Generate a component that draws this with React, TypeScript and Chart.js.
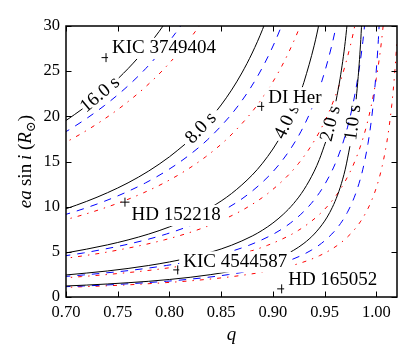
import React, { useEffect, useRef } from 'react';
import { Chart, registerables } from 'chart.js';

Chart.register(...registerables);

const SERIF = "'Liberation Serif', 'DejaVu Serif', 'Times New Roman', serif";

// ---------------- data ----------------
const xTickValues = [0.7, 0.75, 0.8, 0.85, 0.9, 0.95, 1.0];
const yTickValues = [0, 5, 10, 15, 20, 25, 30];

// contour curves: [q, e a sin i (R_sun)] ; null = label gap
const black16 = [[0.68, 18.10], [0.70, 19.54], [0.716, 20.83], [0.733, null], [0.751, 24.25], [0.76, 25.28], [0.77, 26.53], [0.78, 27.90], [0.79, 29.39], [0.80, 31.03]];
const black8 = [[0.68, 9.05], [0.70, 9.77], [0.72, 10.59], [0.74, 11.54], [0.76, 12.64], [0.78, 13.95], [0.80, 15.52], [0.815, 16.91], [0.83, null], [0.846, 20.67], [0.85, 21.26], [0.86, 22.90], [0.87, 24.80], [0.88, 27.01], [0.89, 29.62], [0.90, 32.76]];
const black4 = [[0.68, 4.53], [0.70, 4.88], [0.72, 5.30], [0.74, 5.77], [0.76, 6.32], [0.78, 6.97], [0.80, 7.76], [0.82, 8.72], [0.84, 9.91], [0.86, 11.45], [0.88, 13.50], [0.89, 14.81], [0.90, 16.38], [0.905, 17.29], [0.916, null], [0.928, 23.08], [0.93, 23.77], [0.94, 27.87], [0.945, 30.48], [0.95, 33.62]];
const black2 = [[0.68, 2.26], [0.70, 2.44], [0.72, 2.65], [0.74, 2.88], [0.76, 3.16], [0.78, 3.49], [0.80, 3.88], [0.82, 4.36], [0.84, 4.96], [0.86, 5.73], [0.88, 6.75], [0.89, 7.40], [0.90, 8.19], [0.91, 9.15], [0.92, 10.34], [0.93, 11.88], [0.94, 13.93], [0.945, 15.24], [0.951, 17.16], [0.956, null], [0.961, 21.67], [0.965, 24.20], [0.97, 28.30], [0.975, 34.05]];
const black1 = [[0.68, 1.13], [0.70, 1.22], [0.72, 1.32], [0.74, 1.44], [0.76, 1.58], [0.78, 1.74], [0.80, 1.94], [0.82, 2.18], [0.84, 2.48], [0.86, 2.86], [0.88, 3.38], [0.89, 3.70], [0.90, 4.09], [0.91, 4.57], [0.92, 5.17], [0.93, 5.94], [0.94, 6.97], [0.95, 8.40], [0.955, 9.36], [0.96, 10.56], [0.965, 12.10], [0.97, 14.15], [0.9745, 16.69], [0.9775, null], [0.9805, 21.89], [0.9825, 24.41], [0.985, 28.51], [0.9875, 34.26]];

const blue16 = [[0.677, 16.83], [0.697, 18.10], [0.717, 19.54], [0.737, 21.18], [0.757, 23.07], [0.777, 25.28], [0.797, 27.90], [0.807, 29.39], [0.817, 31.03]];
const blue8 = [[0.677, 8.42], [0.697, 9.05], [0.717, 9.77], [0.737, 10.59], [0.757, 11.54], [0.777, 12.64], [0.797, 13.95], [0.817, 15.52], [0.837, 17.43], [0.857, 19.83], [0.867, 21.26], [0.877, 22.90], [0.887, 24.80], [0.897, 27.01], [0.907, 29.62], [0.917, 32.76]];
const blue4 = [[0.677, 4.21], [0.697, 4.53], [0.717, 4.88], [0.737, 5.30], [0.757, 5.77], [0.777, 6.32], [0.797, 6.97], [0.817, 7.76], [0.837, 8.72], [0.857, 9.91], [0.877, 11.45], [0.897, 13.50], [0.907, 14.81], [0.917, 16.38], [0.927, 18.29], [0.937, 20.69], [0.947, 23.77], [0.957, 27.87], [0.962, 30.48], [0.967, 33.62]];
const blue2 = [[0.677, 2.10], [0.697, 2.26], [0.717, 2.44], [0.737, 2.65], [0.757, 2.88], [0.777, 3.16], [0.797, 3.49], [0.817, 3.88], [0.837, 4.36], [0.857, 4.96], [0.877, 5.73], [0.897, 6.75], [0.907, 7.40], [0.917, 8.19], [0.927, 9.15], [0.937, 10.34], [0.947, 11.88], [0.957, 13.93], [0.962, 15.24], [0.967, 16.81], [0.972, 18.72], [0.977, 21.12], [0.982, 24.20], [0.987, 28.30], [0.992, 34.05]];
const blue1 = [[0.677, 1.05], [0.697, 1.13], [0.717, 1.22], [0.737, 1.32], [0.757, 1.44], [0.777, 1.58], [0.797, 1.74], [0.817, 1.94], [0.837, 2.18], [0.857, 2.48], [0.877, 2.86], [0.897, 3.38], [0.907, 3.70], [0.917, 4.09], [0.927, 4.57], [0.937, 5.17], [0.947, 5.94], [0.957, 6.97], [0.962, 7.62], [0.967, 8.40], [0.972, 9.36], [0.977, 10.56], [0.982, 12.10], [0.987, 14.15], [0.992, 17.02], [0.9945, 18.94], [0.997, 21.33], [0.9995, 24.41], [1.002, 28.51], [1.0045, 34.26]];

const red16 = [[0.695, 16.83], [0.715, 18.10], [0.735, 19.54], [0.755, 21.18], [0.775, 23.07], [0.795, 25.28], [0.815, 27.90], [0.825, 29.39], [0.835, 31.03]];
const red8 = [[0.695, 8.42], [0.715, 9.05], [0.735, 9.77], [0.755, 10.59], [0.775, 11.54], [0.795, 12.64], [0.815, 13.95], [0.835, 15.52], [0.855, 17.43], [0.875, 19.83], [0.885, 21.26], [0.895, 22.90], [0.905, 24.80], [0.915, 27.01], [0.925, 29.62], [0.935, 32.76]];
const red4 = [[0.695, 4.21], [0.715, 4.53], [0.735, 4.88], [0.755, 5.30], [0.775, 5.77], [0.795, 6.32], [0.815, 6.97], [0.835, 7.76], [0.855, 8.72], [0.875, 9.91], [0.895, 11.45], [0.915, 13.50], [0.925, 14.81], [0.935, 16.38], [0.945, 18.29], [0.955, 20.69], [0.965, 23.77], [0.975, 27.87], [0.980, 30.48], [0.985, 33.62]];
const red2 = [[0.695, 2.10], [0.715, 2.26], [0.735, 2.44], [0.755, 2.65], [0.775, 2.88], [0.795, 3.16], [0.815, 3.49], [0.835, 3.88], [0.855, 4.36], [0.875, 4.96], [0.895, 5.73], [0.915, 6.75], [0.925, 7.40], [0.935, 8.19], [0.945, 9.15], [0.955, 10.34], [0.965, 11.88], [0.975, 13.93], [0.980, 15.24], [0.985, 16.81], [0.990, 18.72], [0.995, 21.12], [1.000, 24.20], [1.005, 28.30], [1.010, 34.05]];
const red1 = [[0.695, 1.05], [0.715, 1.13], [0.735, 1.22], [0.755, 1.32], [0.775, 1.44], [0.795, 1.58], [0.815, 1.74], [0.835, 1.94], [0.855, 2.18], [0.875, 2.48], [0.895, 2.86], [0.915, 3.38], [0.925, 3.70], [0.935, 4.09], [0.945, 4.57], [0.955, 5.17], [0.965, 5.94], [0.975, 6.97], [0.980, 7.62], [0.985, 8.40], [0.990, 9.36], [0.995, 10.56], [1.000, 12.10], [1.005, 14.15], [1.010, 17.02], [1.0125, 18.94], [1.015, 21.33], [1.0175, 24.41], [1.020, 28.51], [1.0225, 34.26]];

// contour labels
const contourLabels = ['16.0 s', '8.0 s', '4.0 s', '2.0 s', '1.0 s'];
const contourLabelQ = [0.733, 0.8306, 0.9137, 0.956, 0.9777];
const contourLabelA = [22.4, 18.7, 19.4, 19.2, 19.3];

// stars
const starNames = ['KIC 3749404', 'DI Her', 'HD 152218', 'KIC 4544587', 'HD 165052'];
const starQ = [0.7387, 0.8892, 0.757, 0.808, 0.9085];
const starA = [26.5, 21.1, 10.5, 3.0, 0.9];

// ---------------- styles / layout ----------------
const contourLabelAngle = [40, 46, 64, 76, 83];
const starLabelDx = [6, 6.5, 6.5, 5.5, 6.5];
const starLabelDy = [-10.6, -10, 12, -9.3, -9.8];

const toXY = (pairs: (number | null)[][]) => pairs.map(([x, y]) => ({ x, y }));

function drawYTitle(ctx: CanvasRenderingContext2D, cx: number, cy: number) {
  const size = 19;
  const it = `italic ${size}px ${SERIF}`;
  const rm = `${size}px ${SERIF}`;
  const parts: { t?: string; f?: string; sp?: number; dy?: number }[] = [
    { t: 'e', f: it },
    { t: 'a', f: it },
    { sp: 0.22 * size },
    { t: 'sin', f: rm },
    { sp: 0.2 * size },
    { t: 'i', f: it },
    { sp: 0.25 * size },
    { t: '(', f: rm },
    { t: 'R', f: it },
    { t: '\u2299', f: `${Math.round(size * 0.68)}px ${SERIF}`, dy: size * 0.2 },
    { t: ')', f: rm },
  ];
  let total = 0;
  const widths = parts.map((p) => {
    if (p.sp !== undefined) return p.sp;
    ctx.font = p.f!;
    return ctx.measureText(p.t!).width;
  });
  widths.forEach((w) => (total += w));
  ctx.save();
  ctx.translate(cx, cy);
  ctx.rotate(-Math.PI / 2);
  ctx.fillStyle = '#000';
  ctx.textBaseline = 'alphabetic';
  ctx.textAlign = 'left';
  let u = -total / 2;
  parts.forEach((p, i) => {
    if (p.t) {
      ctx.font = p.f!;
      ctx.fillText(p.t, u, p.dy || 0);
    }
    u += widths[i];
  });
  ctx.restore();
}

const overlayPlugin = {
  id: 'overlay',
  afterDatasetsDraw(chart: any) {
    const ctx: CanvasRenderingContext2D = chart.ctx;
    const xs = chart.scales.x;
    const ys = chart.scales.y;
    ctx.save();
    // contour labels
    ctx.fillStyle = '#000';
    ctx.font = `19px ${SERIF}`;
    ctx.textAlign = 'center';
    ctx.textBaseline = 'middle';
    contourLabels.forEach((t, i) => {
      const px = xs.getPixelForValue(contourLabelQ[i]);
      const py = ys.getPixelForValue(contourLabelA[i]);
      ctx.save();
      ctx.translate(px, py);
      ctx.rotate((-contourLabelAngle[i] * Math.PI) / 180);
      ctx.fillText(t, 0, 0);
      ctx.restore();
    });
    // star labels with white boxes
    const fs = 19;
    ctx.font = `${fs}px ${SERIF}`;
    ctx.textAlign = 'left';
    ctx.textBaseline = 'alphabetic';
    starNames.forEach((name, i) => {
      const px = xs.getPixelForValue(starQ[i]);
      const py = ys.getPixelForValue(starA[i]);
      const tx = px + starLabelDx[i];
      const base = py + starLabelDy[i] + 0.33 * fs;
      const w = ctx.measureText(name).width;
      ctx.fillStyle = '#fff';
      ctx.fillRect(tx - 4, base - 0.66 * fs - 3, w + 8, 0.66 * fs + 3 + 0.22 * fs + 1.5);
      ctx.fillStyle = '#000';
      ctx.fillText(name, tx, base);
    });
    ctx.restore();
  },
  afterDraw(chart: any) {
    const ctx: CanvasRenderingContext2D = chart.ctx;
    const xs = chart.scales.x;
    const ys = chart.scales.y;
    const { left, right, top, bottom } = chart.chartArea;
    ctx.save();
    ctx.strokeStyle = '#000';
    ctx.lineWidth = 1;
    const tl = 5.5;
    ctx.beginPath();
    xTickValues.forEach((v) => {
      const px = Math.round(xs.getPixelForValue(v)) + 0.5;
      ctx.moveTo(px, bottom);
      ctx.lineTo(px, bottom - tl);
      ctx.moveTo(px, top);
      ctx.lineTo(px, top + tl);
    });
    yTickValues.forEach((v) => {
      const py = Math.round(ys.getPixelForValue(v)) + 0.5;
      ctx.moveTo(left, py);
      ctx.lineTo(left + tl, py);
      ctx.moveTo(right, py);
      ctx.lineTo(right - tl, py);
    });
    ctx.stroke();
    ctx.lineWidth = 1.5;
    ctx.strokeRect(left, top, right - left, bottom - top);
    // x title
    ctx.fillStyle = '#000';
    ctx.font = `italic 19px ${SERIF}`;
    ctx.textAlign = 'center';
    ctx.textBaseline = 'alphabetic';
    ctx.fillText('q', (left + right) / 2, 339.5);
    ctx.restore();
    drawYTitle(ctx, 31, (top + bottom) / 2);
  },
};

export default function App() {
  const ref = useRef<HTMLCanvasElement | null>(null);
  useEffect(() => {
    document.body.style.margin = '0';
    const canvas = ref.current!;
    const curveSets = [
      { d: black16, c: '#000000', dash: [] as number[] },
      { d: black8, c: '#000000', dash: [] },
      { d: black4, c: '#000000', dash: [] },
      { d: black2, c: '#000000', dash: [] },
      { d: black1, c: '#000000', dash: [] },
      { d: blue16, c: '#0000ff', dash: [7.5, 7] },
      { d: blue8, c: '#0000ff', dash: [7.5, 7] },
      { d: blue4, c: '#0000ff', dash: [7.5, 7] },
      { d: blue2, c: '#0000ff', dash: [7.5, 7] },
      { d: blue1, c: '#0000ff', dash: [7.5, 7] },
      { d: red16, c: '#ff0000', dash: [4, 6, 1.4, 6] },
      { d: red8, c: '#ff0000', dash: [4, 6, 1.4, 6] },
      { d: red4, c: '#ff0000', dash: [4, 6, 1.4, 6] },
      { d: red2, c: '#ff0000', dash: [4, 6, 1.4, 6] },
      { d: red1, c: '#ff0000', dash: [4, 6, 1.4, 6] },
    ];
    const datasets: any[] = [
      {
        data: starQ.map((q, i) => ({ x: q, y: starA[i] })),
        showLine: false,
        pointStyle: 'cross',
        pointRadius: 4.5,
        pointBorderColor: '#000',
        pointBorderWidth: 1,
        borderColor: '#000',
        clip: false,
      },
      ...curveSets.map((s) => ({
        data: toXY(s.d),
        borderColor: s.c,
        borderWidth: 1,
        borderDash: s.dash,
        pointRadius: 0,
        fill: false,
        spanGaps: false,
        cubicInterpolationMode: 'monotone',
        clip: 0,
      })),
    ];
    const chart = new Chart(canvas, {
      type: 'line',
      data: { datasets },
      plugins: [overlayPlugin],
      options: {
        animation: false,
        responsive: false,
        devicePixelRatio: 1,
        events: [],
        layout: { padding: { top: 26, right: 18, left: 0, bottom: 0 } },
        plugins: { legend: { display: false }, tooltip: { enabled: false }, title: { display: false } },
        scales: {
          x: {
            type: 'linear',
            min: 0.7,
            max: 1.02,
            grid: { display: false, drawTicks: false },
            border: { display: false },
            ticks: {
              color: '#000',
              padding: 6,
              maxRotation: 0,
              font: { family: SERIF, size: 16.5 },
              callback: (v: any) => Number(v).toFixed(2),
            },
            afterBuildTicks: (scale: any) => {
              scale.ticks = xTickValues.map((v) => ({ value: v }));
            },
            afterFit: (scale: any) => {
              scale.height = 66;
            },
          },
          y: {
            type: 'linear',
            min: 0,
            max: 30,
            grid: { display: false, drawTicks: false },
            border: { display: false },
            ticks: {
              color: '#000',
              padding: 6,
              font: { family: SERIF, size: 16.5 },
              callback: (v: any) => String(Math.round(Number(v))),
            },
            afterBuildTicks: (scale: any) => {
              scale.ticks = yTickValues.map((v) => ({ value: v }));
            },
            afterFit: (scale: any) => {
              scale.width = 66;
            },
          },
        },
      } as any,
    });
    return () => chart.destroy();
  }, []);
  return (
    <div style={{ width: 415, height: 363, position: 'relative' }}>
      <canvas ref={ref} width={415} height={363} style={{ display: 'block', width: '415px', height: '363px' }} />
    </div>
  );
}
